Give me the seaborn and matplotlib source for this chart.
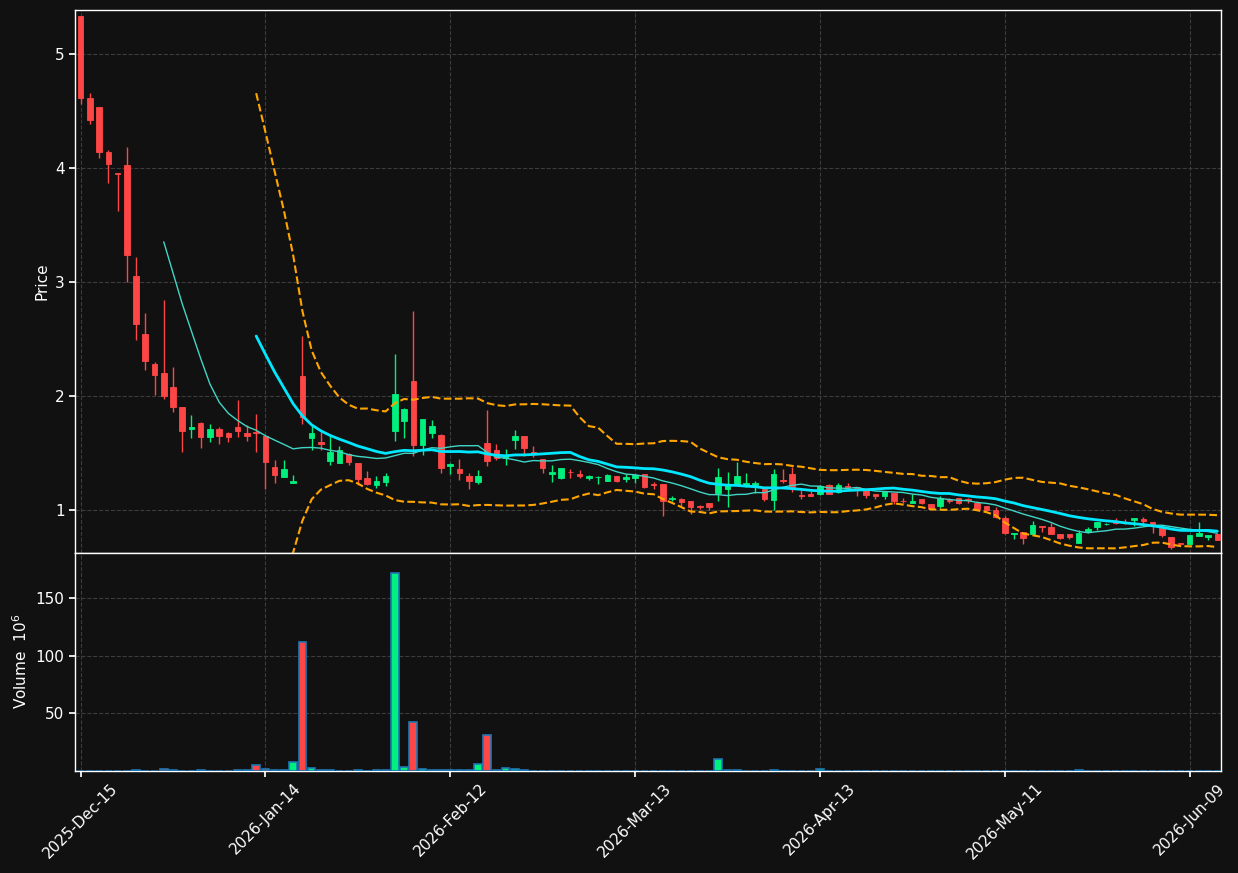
import numpy as np
import pandas as pd
import matplotlib
matplotlib.use("Agg")
import matplotlib.pyplot as plt
import seaborn as sns

# daily OHLC (US trading days from 2025-12-15)
opens = [5.34, 4.62, 4.54, 4.14, 3.96, 4.03, 3.05, 2.54, 2.28, 2.20,
         2.08, 1.90, 1.71, 1.76, 1.64, 1.71, 1.67, 1.73, 1.67, 1.68,
         1.646, 1.371, 1.287, 1.237, 2.178, 1.629, 1.591, 1.427, 1.409, 1.488,
         1.406, 1.275, 1.216, 1.240, 1.687, 1.778, 2.126, 1.567, 1.673, 1.652,
         1.386, 1.355, 1.293, 1.243, 1.583, 1.528, 1.457, 1.610, 1.645, 1.507,
         1.449, 1.314, 1.276, 1.330, 1.311, 1.276, 1.288, 1.252, 1.299, 1.267,
         1.279, 1.310, 1.222, 1.223, 1.091, 1.091, 1.073, 1.028, 1.056, 1.144,
         1.179, 1.220, 1.208, 1.214, 1.179, 1.082, 1.257, 1.311, 1.125, 1.141,
         1.138, 1.214, 1.155, 1.207, 1.199, 1.173, 1.135, 1.120, 1.144, 1.078,
         1.059, 1.097, 1.053, 1.029, 1.084, 1.106, 1.090, 1.059, 1.035, 1.000,
         0.924, 0.783, 0.801, 0.789, 0.852, 0.850, 0.789, 0.789, 0.707, 0.806,
         0.845, 0.870, 0.888, 0.882, 0.906, 0.915, 0.889, 0.842, 0.757, 0.703,
         0.698, 0.768, 0.760, 0.789]
highs = [5.34, 4.66, 4.54, 4.16, 3.96, 4.19, 3.22, 2.73, 2.30, 2.84,
         2.25, 1.90, 1.83, 1.77, 1.75, 1.73, 1.68, 1.96, 1.74, 1.84,
         1.646, 1.439, 1.439, 1.307, 2.526, 1.740, 1.681, 1.652, 1.561, 1.494,
         1.406, 1.342, 1.295, 1.325, 2.368, 1.895, 2.743, 1.792, 1.789, 1.667,
         1.409, 1.446, 1.322, 1.352, 1.879, 1.580, 1.537, 1.698, 1.645, 1.563,
         1.449, 1.396, 1.369, 1.355, 1.352, 1.308, 1.292, 1.317, 1.299, 1.314,
         1.314, 1.310, 1.246, 1.223, 1.123, 1.106, 1.073, 1.041, 1.056, 1.369,
         1.328, 1.422, 1.325, 1.249, 1.188, 1.361, 1.361, 1.375, 1.170, 1.164,
         1.214, 1.229, 1.235, 1.232, 1.199, 1.173, 1.135, 1.161, 1.144, 1.100,
         1.138, 1.097, 1.053, 1.123, 1.100, 1.106, 1.106, 1.076, 1.035, 1.023,
         0.944, 0.798, 0.801, 0.900, 0.859, 0.883, 0.789, 0.789, 0.818, 0.850,
         0.889, 0.886, 0.930, 0.921, 0.930, 0.933, 0.889, 0.842, 0.757, 0.707,
         0.774, 0.889, 0.774, 0.789]
lows = [4.56, 4.39, 4.09, 3.87, 3.62, 3.00, 2.49, 2.23, 2.01, 1.97,
        1.86, 1.51, 1.63, 1.54, 1.59, 1.58, 1.59, 1.64, 1.60, 1.51,
        1.185, 1.237, 1.287, 1.237, 1.754, 1.520, 1.526, 1.395, 1.409, 1.395,
        1.213, 1.219, 1.193, 1.208, 1.602, 1.629, 1.468, 1.477, 1.632, 1.322,
        1.316, 1.264, 1.182, 1.229, 1.387, 1.440, 1.393, 1.537, 1.469, 1.463,
        1.322, 1.243, 1.270, 1.279, 1.279, 1.264, 1.229, 1.252, 1.246, 1.246,
        1.235, 1.190, 1.185, 0.944, 1.079, 1.029, 0.965, 1.006, 1.000, 1.076,
        1.023, 1.220, 1.199, 1.150, 1.079, 1.000, 1.237, 1.158, 1.094, 1.120,
        1.132, 1.138, 1.150, 1.176, 1.117, 1.106, 1.094, 1.094, 1.053, 1.059,
        1.059, 1.050, 1.010, 1.018, 1.062, 1.050, 1.062, 1.005, 0.990, 0.930,
        0.786, 0.745, 0.701, 0.774, 0.807, 0.783, 0.739, 0.745, 0.707, 0.798,
        0.821, 0.866, 0.877, 0.871, 0.853, 0.877, 0.798, 0.763, 0.654, 0.695,
        0.698, 0.768, 0.736, 0.733]
closes = [4.62, 4.42, 4.14, 4.04, 3.95, 3.24, 2.63, 2.31, 2.18, 2.00,
          1.90, 1.69, 1.73, 1.64, 1.71, 1.65, 1.64, 1.69, 1.65, 1.675,
          1.418, 1.304, 1.354, 1.249, 1.813, 1.670, 1.576, 1.503, 1.526, 1.418,
          1.266, 1.225, 1.249, 1.292, 2.018, 1.880, 1.567, 1.792, 1.731, 1.365,
          1.401, 1.320, 1.249, 1.299, 1.428, 1.454, 1.475, 1.651, 1.539, 1.498,
          1.364, 1.331, 1.364, 1.328, 1.296, 1.299, 1.290, 1.308, 1.252, 1.290,
          1.302, 1.196, 1.218, 1.076, 1.106, 1.064, 1.021, 1.025, 1.021, 1.284,
          1.223, 1.293, 1.232, 1.232, 1.091, 1.311, 1.253, 1.199, 1.121, 1.120,
          1.208, 1.138, 1.220, 1.203, 1.176, 1.129, 1.117, 1.161, 1.076, 1.075,
          1.073, 1.056, 1.018, 1.100, 1.080, 1.059, 1.086, 1.009, 0.997, 0.936,
          0.795, 0.798, 0.750, 0.868, 0.850, 0.783, 0.751, 0.757, 0.792, 0.827,
          0.889, 0.877, 0.886, 0.880, 0.930, 0.900, 0.874, 0.774, 0.672, 0.701,
          0.774, 0.792, 0.774, 0.733]
# volume in millions
volumes = [0, 0, 0, 0, 0, 0, 0.5, 0, 0, 1.5,
           0.5, 0, 0, 0.5, 0, 0, 0, 0.5, 0.5, 5.0,
           1.5, 0.5, 0.5, 7.6, 112, 2.3, 0.5, 0.5, 0, 0,
           0.5, 0, 0.5, 0.5, 172, 3.2, 42.4, 1.5, 0.5, 0.5,
           0.5, 0.5, 0.5, 5.8, 31.3, 0.5, 2.3, 1.5, 0.5, 0,
           0, 0, 0, 0, 0, 0, 0, 0, 0, 0,
           0, 0, 0, 0, 0, 0, 0, 0, 0, 10.2,
           0.5, 0.5, 0, 0, 0, 0.5, 0, 0, 0, 0,
           1.5, 0, 0, 0, 0, 0, 0, 0, 0, 0,
           0, 0, 0, 0, 0, 0, 0, 0, 0, 0,
           0, 0, 0, 0, 0, 0, 0, 0, 0.5, 0,
           0, 0, 0, 0, 0, 0, 0, 0, 0, 0,
           0, 0, 0, 0]
holidays = ["2025-12-25", "2026-01-01", "2026-01-19", "2026-02-16",
            "2026-04-03", "2026-05-25"]

dates = pd.bdate_range("2025-12-15", periods=len(closes), freq="C", holidays=holidays)
df = pd.DataFrame({"open": opens, "high": highs, "low": lows,
                   "close": closes, "volume": volumes}, index=dates)
df["i"] = np.arange(len(df))
df["ma10"] = df["close"].rolling(10).mean()
df["ma20"] = df["close"].rolling(20).mean()
std20 = df["close"].rolling(20).std(ddof=0)
df["bb_up"] = df["ma20"] + 2 * std20
df["bb_lo"] = df["ma20"] - 2 * std20

BG = "#111111"
UP = "#00f07e"
DOWN = "#ff4646"

sns.set_theme(style="dark", rc={
    "figure.facecolor": BG, "axes.facecolor": BG,
    "axes.edgecolor": "white", "axes.labelcolor": "white",
    "xtick.color": "white", "ytick.color": "white",
    "text.color": "white", "axes.grid": True,
    "grid.color": "#3c3c3c", "grid.linestyle": "--", "grid.linewidth": 0.8,
    "xtick.bottom": True, "ytick.left": True,
})
plt.rcParams["font.family"] = ["DejaVu Sans"]

fig = plt.figure(figsize=(12.38, 8.73), dpi=100)
ax = fig.add_axes([0.0606, 0.3671, 0.9257, 0.6214])
axv = fig.add_axes([0.0606, 0.1174, 0.9257, 0.2497], sharex=ax)

up = df["close"] >= df["open"]
colors = np.where(up, UP, DOWN)

# candles
ax.vlines(df["i"], df["low"], df["high"], colors=colors, linewidth=1, zorder=2)
ax.bar(df["i"], (df["close"] - df["open"]).abs(),
       bottom=df[["open", "close"]].min(axis=1), width=0.6,
       color=colors, edgecolor=colors, linewidth=0.6, zorder=3)

# moving averages and bollinger bands
sns.lineplot(data=df, x="i", y="ma10", ax=ax, color="#3fd6c6", linewidth=1, zorder=4)
sns.lineplot(data=df, x="i", y="ma20", ax=ax, color="#00e8ff", linewidth=2, zorder=4)
sns.lineplot(data=df, x="i", y="bb_up", ax=ax, color="#ffa500", linewidth=1.5,
             linestyle="--", zorder=4)
sns.lineplot(data=df, x="i", y="bb_lo", ax=ax, color="#ffa500", linewidth=1.5,
             linestyle="--", zorder=4)

# volume
axv.bar(df["i"], df["volume"], width=0.82, color=colors,
        edgecolor="#1f77b4", linewidth=1.2, zorder=3)

ax.set_xlim(-0.6, len(df) - 0.6)
ax.set_ylim(0.623, 5.39)
ax.set_yticks([1, 2, 3, 4, 5])
ax.set_ylabel("Price", fontsize=11)
ax.set_xlabel("")
ax.tick_params(axis="x", labelbottom=False, length=0)
ax.tick_params(axis="y", labelsize=11, length=4)

axv.set_ylim(0, 190)
axv.set_yticks([50, 100, 150])
axv.set_ylabel("Volume  $10^{6}$", fontsize=11)
tick_pos = list(range(0, len(df), 20))
axv.set_xticks(tick_pos)
axv.set_xticklabels([dates[p].strftime("%Y-%b-%d") for p in tick_pos],
                    rotation=45, fontsize=11)
axv.tick_params(axis="both", labelsize=11, length=4)

for a in (ax, axv):
    a.grid(True, color="#3c3c3c", linestyle="--", linewidth=0.8)
    a.set_axisbelow(True)
    for s in a.spines.values():
        s.set_color("white")
        s.set_linewidth(1)

fig.savefig("out.png", dpi=100, facecolor=BG)
